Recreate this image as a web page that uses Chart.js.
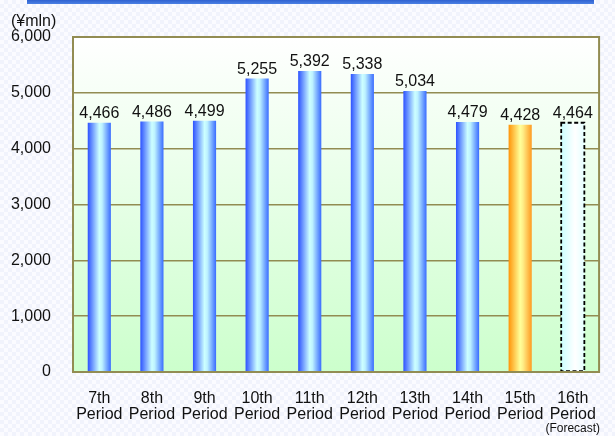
<!DOCTYPE html>
<html>
<head>
<meta charset="utf-8">
<script src="https://cdn.jsdelivr.net/npm/chart.js@4"></script>
<style>
  html, body { margin: 0; padding: 0; }
  body {
    width: 615px; height: 436px; overflow: hidden; position: relative;
    background-color: #ffffff;
    background-image: conic-gradient(#f1f3fc 25%, #fbfbff 0 50%, #f1f3fc 0 75%, #fbfbff 0);
    background-size: 8px 8px;
  }
  #topband {
    position: absolute; left: 27px; top: 0; width: 567px; height: 4px;
    background: linear-gradient(#2f62d0, #4b80e4);
  }
  #wrap { position: absolute; left: 0; top: 0; width: 615px; height: 436px; }
</style>
</head>
<body>
<div id="topband"></div>
<div id="wrap"><canvas id="c" width="615" height="436"></canvas></div>
<script>
// Net income by fiscal period (¥ million)
const periods = ['7th', '8th', '9th', '10th', '11th', '12th', '13th', '14th', '15th', '16th'];
const values = [4466, 4486, 4499, 5255, 5392, 5338, 5034, 4479, 4428, 4464];
const yTicks = [0, 1000, 2000, 3000, 4000, 5000, 6000];
const unitLabel = '(¥mln)';
const forecastNote = '(Forecast)';
const currentIndex = 8;
const forecastIndex = 9;

const FONT = '"Liberation Sans", Arial, sans-serif';
const BAR_PCT = 0.44;
const OLIVE = '#928c52';

function barSpan(chart, i) {
  const xs = chart.scales.x;
  const c = xs.getPixelForValue(i);
  const half = (xs.width / periods.length) * BAR_PCT / 2;
  return [c - half, c + half];
}

function barFill(ctx) {
  const chart = ctx.chart;
  const i = ctx.dataIndex;
  if (!chart.scales.x || !chart.chartArea) return '#5588ff';
  const [l, r] = barSpan(chart, i);
  const g = chart.ctx.createLinearGradient(l, 0, r, 0);
  if (i === currentIndex) {
    g.addColorStop(0, '#ff9408');
    g.addColorStop(0.5, '#ffff99');
    g.addColorStop(0.62, '#ffee88');
    g.addColorStop(1, '#ff9a20');
  } else if (i === forecastIndex) {
    g.addColorStop(0, '#ccffff');
    g.addColorStop(0.6, '#ffffff');
    g.addColorStop(1, '#e4ffff');
  } else {
    g.addColorStop(0, '#2d52ff');
    g.addColorStop(0.5, '#ccffff');
    g.addColorStop(0.62, '#bdf2ff');
    g.addColorStop(1, '#3a6cff');
  }
  return g;
}

// Plot background: white at the top fading into pale green at the base
const plotBackground = {
  id: 'plotBackground',
  beforeDraw(chart) {
    const { ctx, chartArea: a } = chart;
    const g = ctx.createLinearGradient(0, a.top, 0, a.bottom);
    g.addColorStop(0, '#ffffff');
    g.addColorStop(1, '#ccffcc');
    ctx.save();
    ctx.fillStyle = g;
    ctx.fillRect(a.left, a.top, a.right - a.left, a.bottom - a.top);
    ctx.restore();
  },
  afterDraw(chart) {
    const { ctx, chartArea: a } = chart;
    ctx.save();
    ctx.strokeStyle = OLIVE;
    ctx.lineWidth = 2;
    ctx.strokeRect(a.left, a.top, a.right - a.left, a.bottom - a.top);
    ctx.restore();
  }
};

// Value labels, dashed outline for the forecast bar, and extra texts
const annotations = {
  id: 'annotations',
  afterDatasetsDraw(chart) {
    const { ctx } = chart;
    const meta = chart.getDatasetMeta(0);
    ctx.save();
    meta.data.forEach((bar, i) => {
      const p = bar.getProps(['x', 'y', 'base', 'width'], true);
      if (i === forecastIndex) {
        ctx.save();
        ctx.strokeStyle = '#000000';
        ctx.lineWidth = 1.8;
        ctx.setLineDash([4, 2.5]);
        ctx.strokeRect(p.x - p.width / 2, p.y, p.width, p.base - p.y);
        ctx.restore();
      }
      ctx.fillStyle = '#111111';
      ctx.font = '16px ' + FONT;
      ctx.textAlign = 'center';
      ctx.textBaseline = 'alphabetic';
      ctx.fillText(values[i].toLocaleString('en-US'), p.x, p.y - 5);
    });
    ctx.restore();
  },
  afterDraw(chart) {
    const { ctx } = chart;
    ctx.save();
    ctx.fillStyle = '#111111';
    ctx.font = '16px ' + FONT;
    ctx.textAlign = 'left';
    ctx.textBaseline = 'middle';
    ctx.fillText(unitLabel, 11, 22);
    ctx.font = '12px ' + FONT;
    ctx.textAlign = 'center';
    ctx.fillText(forecastNote, chart.scales.x.getPixelForValue(forecastIndex), 429);
    ctx.restore();
  }
};

new Chart(document.getElementById('c'), {
  type: 'bar',
  data: {
    labels: periods.map(p => [p, 'Period']),
    datasets: [{
      data: values,
      backgroundColor: barFill,
      borderWidth: 0,
      barPercentage: BAR_PCT,
      categoryPercentage: 1
    }]
  },
  options: {
    responsive: false,
    animation: false,
    devicePixelRatio: 1,
    layout: { padding: { top: 37, right: 2, left: 0, bottom: 0 } },
    plugins: {
      legend: { display: false },
      tooltip: { enabled: false }
    },
    scales: {
      x: {
        grid: { display: false, drawTicks: false },
        border: { display: false },
        ticks: {
          color: '#111111',
          font: { family: FONT, size: 16, lineHeight: 1.0 },
          padding: 19,
          maxRotation: 0,
          autoSkip: false
        },
        afterFit(scale) { scale.height = 64; }
      },
      y: {
        min: 0,
        max: 6000,
        afterBuildTicks(scale) { scale.ticks = yTicks.map(v => ({ value: v })); },
        grid: { color: OLIVE, lineWidth: 1.5, drawTicks: false },
        border: { display: false },
        ticks: {
          color: '#111111',
          font: { family: FONT, size: 16 },
          padding: 22,
          callback: v => v.toLocaleString('en-US')
        },
        afterFit(scale) { scale.width = 73; }
      }
    }
  },
  plugins: [plotBackground, annotations]
});
</script>
</body>
</html>
